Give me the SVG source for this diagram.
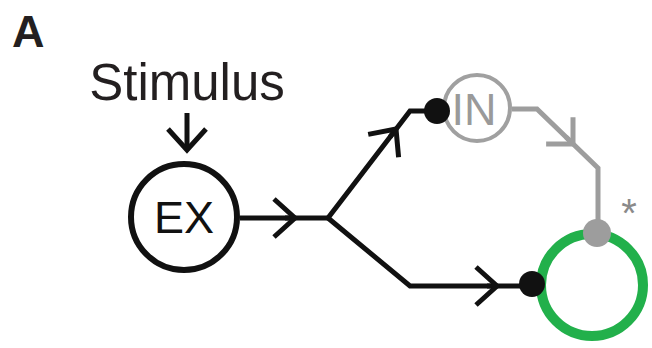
<svg xmlns="http://www.w3.org/2000/svg" width="652" height="348" viewBox="0 0 652 348">
<style>
.t{font-family:"Liberation Sans",Arial,sans-serif}
.blk{fill:none;stroke:#111;stroke-width:5;stroke-linejoin:miter}
.gry{fill:none;stroke:#9d9d9d;stroke-width:5;stroke-linejoin:miter}
</style>
<defs>
<marker id="chevB" markerUnits="userSpaceOnUse" markerWidth="60" markerHeight="60" viewBox="-30 -30 60 60" refX="0" refY="0" orient="auto" overflow="visible">
<path d="M-21,-19 L0,0 L-21,19" fill="none" stroke="#111" stroke-width="5"/>
</marker>
<marker id="chevG" markerUnits="userSpaceOnUse" markerWidth="60" markerHeight="60" viewBox="-30 -30 60 60" refX="0" refY="0" orient="auto" overflow="visible">
<path d="M-19,-19 L0,0 L-19,19" fill="none" stroke="#9d9d9d" stroke-width="5"/>
</marker>
</defs>
<rect width="652" height="348" fill="#fff"/>
<text class="t" x="12" y="47" font-size="45" font-weight="bold" fill="#231f20">A</text>
<text class="t" x="187" y="100" font-size="51" text-anchor="middle" fill="#231f20">Stimulus</text>
<g id="connectors">
<path class="blk" d="M187,113 L187,150" marker-end="url(#chevB)"/>
<path class="blk" d="M240,218 L328,218"/>
<path class="blk" d="M285,218 L295,218" marker-end="url(#chevB)"/>
<path class="blk" d="M328,218 L410,111 L437,111"/>
<path class="blk" d="M390,137 L396,129" marker-end="url(#chevB)"/>
<path class="blk" d="M328,218 L410,286 L532,286"/>
<path class="blk" d="M487,286 L497,286" marker-end="url(#chevB)"/>
<path class="gry" d="M512,109 L537,109 L598,168 L598,233"/>
<path class="gry" d="M566,137 L573,144" marker-end="url(#chevG)"/>
</g>
<g id="EX">
<circle cx="184" cy="217" r="53" fill="#fff" stroke="#111" stroke-width="6"/>
<text class="t" x="184" y="233" font-size="45" text-anchor="middle" fill="#111">EX</text>
</g>
<g id="IN">
<circle cx="477" cy="108" r="33" fill="#fff" stroke="#a0a0a0" stroke-width="4"/>
<text class="t" x="474" y="125" font-size="45" text-anchor="middle" fill="#9a9a9a">IN</text>
</g>
<g id="target">
<circle cx="592" cy="285" r="51" fill="none" stroke="#22b04b" stroke-width="10"/>
</g>
<g id="synapses">
<circle cx="437" cy="111" r="13" fill="#111"/>
<circle cx="532" cy="284" r="13" fill="#111"/>
<circle cx="597" cy="233" r="14" fill="#9d9d9d"/>
</g>
<text class="t" x="629" y="227" font-size="40" text-anchor="middle" fill="#8a8a8a">*</text>
</svg>
